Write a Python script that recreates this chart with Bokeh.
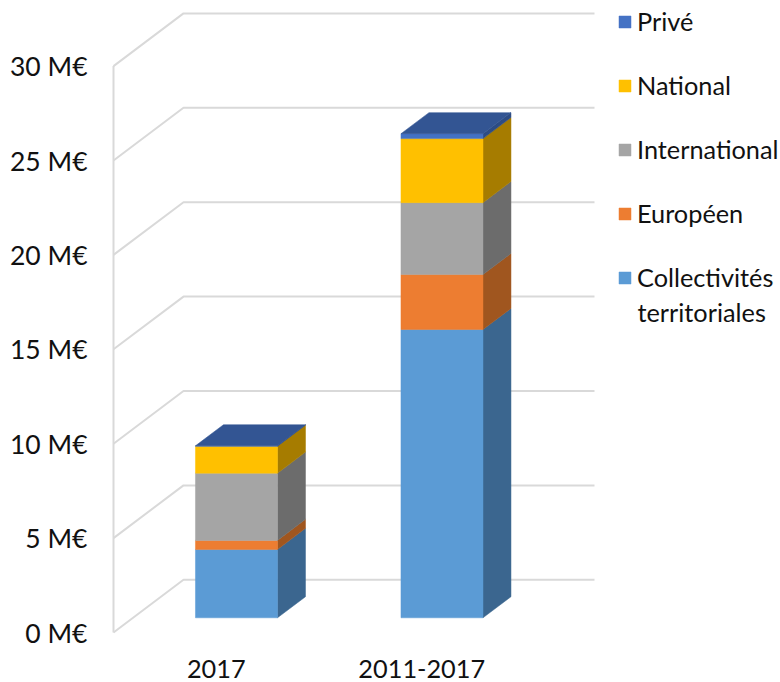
from bokeh.plotting import figure
from bokeh.models import Legend, LegendItem, Label, FixedTicker, PrintfTickFormatter, Range1d
from bokeh.embed import file_html
from bokeh.resources import INLINE

categories = ["2017", "2011-2017"]
series = ["Collectivités territoriales", "Européen", "International", "National", "Privé"]
collectivites = [3.62, 15.27]
europeen = [0.48, 2.91]
international = [3.56, 3.81]
national = [1.43, 3.39]
prive = [0.02, 0.26]
values = [collectivites, europeen, international, national, prive]
y_ticks = [0, 5, 10, 15, 20, 25, 30]

front_colors = ["#5B9BD5", "#ED7D31", "#A5A5A5", "#FFC000", "#4472C4"]
side_colors = ["#3B668F", "#A0561F", "#6C6C6C", "#A67C00", "#2D4C84"]
top_color = "#335593"
grid_color = "#D9D9D9"
FONT = "Lato"
FS = "25.3px"

# scale: pixels per unit
PX_X, PX_Y = 205.5, 18.88
# 3D projection of the depth axis, in data units
DX, DY = 70 / PX_X, 52.7 / PX_Y
BAR_W = 82 / PX_X
D0, D1 = 0.279, 0.679   # bar front/back depth

p = figure(width=780, height=682, output_backend="svg", toolbar_location=None,
           x_range=Range1d(-8 / PX_X, 667 / PX_X), y_range=Range1d(-4 / PX_Y, 632 / PX_Y),
           min_border_left=105, min_border_right=0, min_border_top=0, min_border_bottom=46)
p.outline_line_color = None
p.grid.visible = False
p.background_fill_color = "white"

for ax in (p.xaxis[0], p.yaxis[0]):
    ax.axis_line_color = None
    ax.major_tick_line_color = None
    ax.minor_tick_line_color = None
    ax.major_label_text_font = FONT
    ax.major_label_text_font_size = FS
    ax.major_label_text_color = "#111111"

p.yaxis[0].ticker = FixedTicker(ticks=y_ticks)
p.yaxis[0].formatter = PrintfTickFormatter(format="%d M€")
p.yaxis[0].major_label_standoff = 12
p.yaxis[0].major_label_text_font_size = "26.5px"
p.xaxis[0].ticker = FixedTicker(ticks=[i + 0.5 for i in range(len(categories))])
p.xaxis[0].major_label_overrides = {i + 0.5: c for i, c in enumerate(categories)}
p.xaxis[0].major_label_standoff = 17

# walls
p.multi_line([[0, DX, DX + 2] for _ in y_ticks], [[v, v + DY, v + DY] for v in y_ticks],
             line_color=grid_color, line_width=2)
p.line([0, 0], [0, y_ticks[-1]], line_color=grid_color, line_width=2)

# bars
legend_renderers = {}
for i in range(len(categories)):
    left = i + 0.5 - BAR_W / 2 + D0 * DX + 0.7 / PX_X
    right = left + BAR_W
    base = D0 * DY
    shift_x = (D1 - D0) * DX
    shift_y = (D1 - D0) * DY
    for s, vals in enumerate(values):
        top = base + vals[i]
        p.patch([right, right + shift_x, right + shift_x, right],
                [base, base + shift_y, top + shift_y, top],
                fill_color=side_colors[s], line_color=side_colors[s], line_width=0.5)
        r = p.quad(left=[left], right=[right], bottom=[base], top=[top],
                   fill_color=front_colors[s], line_color=front_colors[s], line_width=0.5)
        legend_renderers[s] = r
        base = top
    p.patch([left, right, right + shift_x, left + shift_x],
            [base, base, base + shift_y, base + shift_y],
            fill_color=top_color, line_color=top_color, line_width=0.5)

labels = ["Privé", "National", "International", "Européen", "Collectivités"]
order = [4, 3, 2, 1, 0]
legend = Legend(items=[LegendItem(label=l, renderers=[legend_renderers[s]]) for l, s in zip(labels, order)],
                location=(512, 344), orientation="vertical",
                glyph_width=15, glyph_height=15, label_standoff=5,
                label_text_font=FONT, label_text_font_size=FS, label_text_color="#111111",
                label_height=30, spacing=34, padding=0, margin=0,
                border_line_color=None, background_fill_alpha=0)
p.add_layout(legend)
p.add_layout(Label(x=(637 - 113) / PX_X, y=(632 - 311) / PX_Y, text="territoriales",
                   text_font=FONT, text_font_size=FS, text_color="#111111",
                   text_baseline="middle"))

open("out.html", "w").write(file_html(p, INLINE))
